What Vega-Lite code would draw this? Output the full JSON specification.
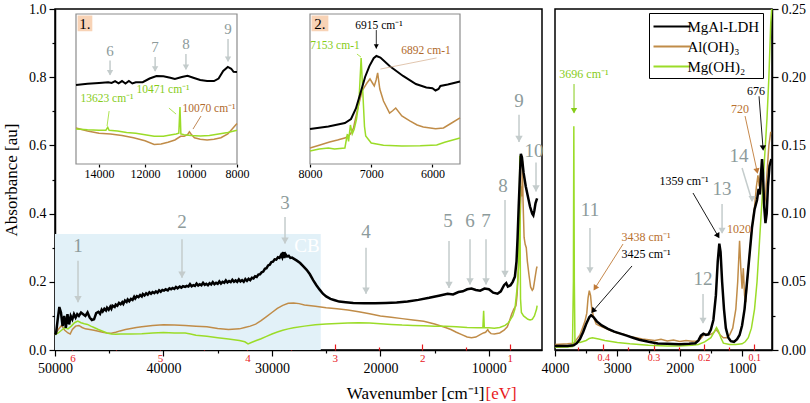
{
"$schema":"https://vega.github.io/schema/vega-lite/v6.json",
"padding":{"left":1,"top":1,"right":0,"bottom":0},
"bounds":"flush",
"spacing":13,
"config":{"font":"Liberation Serif","view":{"stroke":"black","strokeWidth":1.5},
 "style":{"guide-label":{"font":"Liberation Serif"},"guide-title":{"font":"Liberation Serif"}},
 "axis":{"grid":false,"domainColor":"black","domainWidth":1.5,"tickColor":"black","tickWidth":1.2,"labelColor":"black","titleColor":"black","labelFont":"Liberation Serif","titleFont":"Liberation Serif","labelFontSize":14},
 "legend":{"labelFont":"Liberation Serif"}},
"resolve":{"scale":{"color":"independent"}},
"datasets":{
"L":[
{"wn":50000,"a":0.045,"s":"MgAl-LDH"},{"wn":49900,"a":0.05,"s":"MgAl-LDH"},{"wn":49750,"a":0.09,"s":"MgAl-LDH"},{"wn":49600,"a":0.126,"s":"MgAl-LDH"},{"wn":49450,"a":0.11,"s":"MgAl-LDH"},{"wn":49300,"a":0.07,"s":"MgAl-LDH"},{"wn":49150,"a":0.1,"s":"MgAl-LDH"},{"wn":49000,"a":0.065,"s":"MgAl-LDH"},{"wn":48850,"a":0.105,"s":"MgAl-LDH"},{"wn":48700,"a":0.075,"s":"MgAl-LDH"},{"wn":48550,"a":0.1,"s":"MgAl-LDH"},{"wn":48400,"a":0.09,"s":"MgAl-LDH"},{"wn":48250,"a":0.105,"s":"MgAl-LDH"},{"wn":48100,"a":0.095,"s":"MgAl-LDH"},{"wn":47950,"a":0.105,"s":"MgAl-LDH"},{"wn":47800,"a":0.1,"s":"MgAl-LDH"},{"wn":47600,"a":0.11,"s":"MgAl-LDH"},{"wn":47400,"a":0.105,"s":"MgAl-LDH"},{"wn":47200,"a":0.1,"s":"MgAl-LDH"},{"wn":47000,"a":0.11,"s":"MgAl-LDH"},{"wn":46800,"a":0.095,"s":"MgAl-LDH"},{"wn":46600,"a":0.088,"s":"MgAl-LDH"},{"wn":46400,"a":0.09,"s":"MgAl-LDH"},{"wn":46200,"a":0.108,"s":"MgAl-LDH"},
{"wn":46000,"a":0.112,"s":"MgAl-LDH"},{"wn":45850,"a":0.106,"s":"MgAl-LDH"},{"wn":45700,"a":0.118,"s":"MgAl-LDH"},{"wn":45600,"a":0.113,"s":"MgAl-LDH"},{"wn":45450,"a":0.121,"s":"MgAl-LDH"},{"wn":45300,"a":0.116,"s":"MgAl-LDH"},{"wn":45200,"a":0.124,"s":"MgAl-LDH"},{"wn":45050,"a":0.118,"s":"MgAl-LDH"},{"wn":44900,"a":0.127,"s":"MgAl-LDH"},{"wn":44800,"a":0.121,"s":"MgAl-LDH"},{"wn":44700,"a":0.13,"s":"MgAl-LDH"},{"wn":44500,"a":0.126,"s":"MgAl-LDH"},{"wn":44400,"a":0.133,"s":"MgAl-LDH"},{"wn":44250,"a":0.13,"s":"MgAl-LDH"},{"wn":44100,"a":0.138,"s":"MgAl-LDH"},{"wn":43950,"a":0.134,"s":"MgAl-LDH"},{"wn":43800,"a":0.14,"s":"MgAl-LDH"},{"wn":43700,"a":0.135,"s":"MgAl-LDH"},{"wn":43550,"a":0.145,"s":"MgAl-LDH"},{"wn":43400,"a":0.141,"s":"MgAl-LDH"},{"wn":43300,"a":0.148,"s":"MgAl-LDH"},{"wn":43150,"a":0.143,"s":"MgAl-LDH"},{"wn":43000,"a":0.15,"s":"MgAl-LDH"},{"wn":42850,"a":0.147,"s":"MgAl-LDH"},{"wn":42700,"a":0.156,"s":"MgAl-LDH"},{"wn":42600,"a":0.151,"s":"MgAl-LDH"},{"wn":42450,"a":0.158,"s":"MgAl-LDH"},{"wn":42300,"a":0.155,"s":"MgAl-LDH"},{"wn":42150,"a":0.161,"s":"MgAl-LDH"},{"wn":42000,"a":0.157,"s":"MgAl-LDH"},{"wn":41900,"a":0.164,"s":"MgAl-LDH"},{"wn":41750,"a":0.16,"s":"MgAl-LDH"},{"wn":41600,"a":0.166,"s":"MgAl-LDH"},{"wn":41450,"a":0.162,"s":"MgAl-LDH"},{"wn":41300,"a":0.169,"s":"MgAl-LDH"},{"wn":41150,"a":0.165,"s":"MgAl-LDH"},{"wn":41000,"a":0.17,"s":"MgAl-LDH"},{"wn":40850,"a":0.167,"s":"MgAl-LDH"},{"wn":40700,"a":0.172,"s":"MgAl-LDH"},{"wn":40550,"a":0.168,"s":"MgAl-LDH"},{"wn":40400,"a":0.175,"s":"MgAl-LDH"},{"wn":40250,"a":0.171,"s":"MgAl-LDH"},{"wn":40100,"a":0.176,"s":"MgAl-LDH"},{"wn":39950,"a":0.174,"s":"MgAl-LDH"},{"wn":39800,"a":0.178,"s":"MgAl-LDH"},{"wn":39600,"a":0.175,"s":"MgAl-LDH"},{"wn":39450,"a":0.181,"s":"MgAl-LDH"},{"wn":39300,"a":0.178,"s":"MgAl-LDH"},{"wn":39150,"a":0.182,"s":"MgAl-LDH"},{"wn":39000,"a":0.179,"s":"MgAl-LDH"},{"wn":38850,"a":0.185,"s":"MgAl-LDH"},{"wn":38700,"a":0.181,"s":"MgAl-LDH"},{"wn":38500,"a":0.186,"s":"MgAl-LDH"},{"wn":38350,"a":0.183,"s":"MgAl-LDH"},{"wn":38200,"a":0.187,"s":"MgAl-LDH"},{"wn":38000,"a":0.185,"s":"MgAl-LDH"},{"wn":37850,"a":0.188,"s":"MgAl-LDH"},{"wn":37700,"a":0.186,"s":"MgAl-LDH"},{"wn":37550,"a":0.193,"s":"MgAl-LDH"},{"wn":37400,"a":0.187,"s":"MgAl-LDH"},{"wn":37250,"a":0.19,"s":"MgAl-LDH"},{"wn":37100,"a":0.188,"s":"MgAl-LDH"},{"wn":36950,"a":0.195,"s":"MgAl-LDH"},{"wn":36800,"a":0.189,"s":"MgAl-LDH"},{"wn":36650,"a":0.193,"s":"MgAl-LDH"},{"wn":36500,"a":0.19,"s":"MgAl-LDH"},{"wn":36350,"a":0.197,"s":"MgAl-LDH"},{"wn":36200,"a":0.191,"s":"MgAl-LDH"},{"wn":36050,"a":0.194,"s":"MgAl-LDH"},{"wn":35900,"a":0.19,"s":"MgAl-LDH"},{"wn":35750,"a":0.196,"s":"MgAl-LDH"},{"wn":35600,"a":0.192,"s":"MgAl-LDH"},{"wn":35450,"a":0.199,"s":"MgAl-LDH"},{"wn":35300,"a":0.193,"s":"MgAl-LDH"},{"wn":35150,"a":0.197,"s":"MgAl-LDH"},{"wn":35000,"a":0.194,"s":"MgAl-LDH"},{"wn":34850,"a":0.201,"s":"MgAl-LDH"},{"wn":34700,"a":0.195,"s":"MgAl-LDH"},{"wn":34550,"a":0.2,"s":"MgAl-LDH"},{"wn":34400,"a":0.197,"s":"MgAl-LDH"},{"wn":34250,"a":0.204,"s":"MgAl-LDH"},{"wn":34100,"a":0.198,"s":"MgAl-LDH"},{"wn":33950,"a":0.202,"s":"MgAl-LDH"},{"wn":33800,"a":0.199,"s":"MgAl-LDH"},{"wn":33650,"a":0.206,"s":"MgAl-LDH"},{"wn":33500,"a":0.2,"s":"MgAl-LDH"},{"wn":33350,"a":0.204,"s":"MgAl-LDH"},{"wn":33200,"a":0.2,"s":"MgAl-LDH"},{"wn":33050,"a":0.207,"s":"MgAl-LDH"},{"wn":32900,"a":0.201,"s":"MgAl-LDH"},{"wn":32750,"a":0.205,"s":"MgAl-LDH"},{"wn":32600,"a":0.2,"s":"MgAl-LDH"},{"wn":32450,"a":0.208,"s":"MgAl-LDH"},{"wn":32300,"a":0.203,"s":"MgAl-LDH"},{"wn":32150,"a":0.209,"s":"MgAl-LDH"},{"wn":32000,"a":0.205,"s":"MgAl-LDH"},{"wn":31850,"a":0.212,"s":"MgAl-LDH"},{"wn":31700,"a":0.21,"s":"MgAl-LDH"},{"wn":31550,"a":0.216,"s":"MgAl-LDH"},{"wn":31400,"a":0.214,"s":"MgAl-LDH"},{"wn":31250,"a":0.221,"s":"MgAl-LDH"},{"wn":31100,"a":0.222,"s":"MgAl-LDH"},{"wn":30950,"a":0.228,"s":"MgAl-LDH"},{"wn":30800,"a":0.23,"s":"MgAl-LDH"},{"wn":30650,"a":0.238,"s":"MgAl-LDH"},{"wn":30500,"a":0.24,"s":"MgAl-LDH"},{"wn":30350,"a":0.248,"s":"MgAl-LDH"},{"wn":30200,"a":0.25,"s":"MgAl-LDH"},{"wn":30050,"a":0.258,"s":"MgAl-LDH"},{"wn":29900,"a":0.259,"s":"MgAl-LDH"},{"wn":29750,"a":0.266,"s":"MgAl-LDH"},{"wn":29600,"a":0.265,"s":"MgAl-LDH"},{"wn":29450,"a":0.272,"s":"MgAl-LDH"},{"wn":29300,"a":0.27,"s":"MgAl-LDH"},{"wn":29150,"a":0.279,"s":"MgAl-LDH"},{"wn":29050,"a":0.272,"s":"MgAl-LDH"},{"wn":28950,"a":0.287,"s":"MgAl-LDH"},{"wn":28850,"a":0.27,"s":"MgAl-LDH"},{"wn":28750,"a":0.281,"s":"MgAl-LDH"},{"wn":28600,"a":0.274,"s":"MgAl-LDH"},{"wn":28450,"a":0.276,"s":"MgAl-LDH"},{"wn":28300,"a":0.27,"s":"MgAl-LDH"},{"wn":28150,"a":0.271,"s":"MgAl-LDH"},
{"wn":28000,"a":0.268,"s":"MgAl-LDH"},{"wn":27700,"a":0.262,"s":"MgAl-LDH"},{"wn":27400,"a":0.255,"s":"MgAl-LDH"},{"wn":27100,"a":0.245,"s":"MgAl-LDH"},{"wn":26800,"a":0.235,"s":"MgAl-LDH"},{"wn":26500,"a":0.222,"s":"MgAl-LDH"},{"wn":26200,"a":0.205,"s":"MgAl-LDH"},{"wn":25900,"a":0.19,"s":"MgAl-LDH"},{"wn":25600,"a":0.177,"s":"MgAl-LDH"},{"wn":25300,"a":0.165,"s":"MgAl-LDH"},{"wn":25000,"a":0.157,"s":"MgAl-LDH"},{"wn":24600,"a":0.15,"s":"MgAl-LDH"},{"wn":24200,"a":0.146,"s":"MgAl-LDH"},{"wn":23800,"a":0.142,"s":"MgAl-LDH"},{"wn":23200,"a":0.14,"s":"MgAl-LDH"},{"wn":22500,"a":0.138,"s":"MgAl-LDH"},{"wn":21500,"a":0.137,"s":"MgAl-LDH"},{"wn":20500,"a":0.137,"s":"MgAl-LDH"},{"wn":19500,"a":0.138,"s":"MgAl-LDH"},{"wn":18500,"a":0.139,"s":"MgAl-LDH"},{"wn":17500,"a":0.142,"s":"MgAl-LDH"},{"wn":16500,"a":0.147,"s":"MgAl-LDH"},{"wn":15500,"a":0.153,"s":"MgAl-LDH"},{"wn":14500,"a":0.16,"s":"MgAl-LDH"},{"wn":13800,"a":0.165,"s":"MgAl-LDH"},{"wn":13300,"a":0.163,"s":"MgAl-LDH"},{"wn":12800,"a":0.17,"s":"MgAl-LDH"},{"wn":12400,"a":0.172,"s":"MgAl-LDH"},{"wn":12000,"a":0.178,"s":"MgAl-LDH"},{"wn":11600,"a":0.18,"s":"MgAl-LDH"},{"wn":11200,"a":0.176,"s":"MgAl-LDH"},{"wn":10800,"a":0.174,"s":"MgAl-LDH"},{"wn":10400,"a":0.18,"s":"MgAl-LDH"},{"wn":10000,"a":0.178,"s":"MgAl-LDH"},{"wn":9600,"a":0.168,"s":"MgAl-LDH"},{"wn":9200,"a":0.165,"s":"MgAl-LDH"},{"wn":8900,"a":0.172,"s":"MgAl-LDH"},{"wn":8600,"a":0.19,"s":"MgAl-LDH"},{"wn":8400,"a":0.196,"s":"MgAl-LDH"},{"wn":8250,"a":0.186,"s":"MgAl-LDH"},{"wn":8000,"a":0.19,"s":"MgAl-LDH"},{"wn":7800,"a":0.2,"s":"MgAl-LDH"},{"wn":7600,"a":0.215,"s":"MgAl-LDH"},{"wn":7450,"a":0.26,"s":"MgAl-LDH"},{"wn":7350,"a":0.33,"s":"MgAl-LDH"},{"wn":7250,"a":0.42,"s":"MgAl-LDH"},{"wn":7150,"a":0.5,"s":"MgAl-LDH"},{"wn":7050,"a":0.575,"s":"MgAl-LDH"},{"wn":6950,"a":0.565,"s":"MgAl-LDH"},{"wn":6800,"a":0.52,"s":"MgAl-LDH"},{"wn":6600,"a":0.48,"s":"MgAl-LDH"},{"wn":6400,"a":0.45,"s":"MgAl-LDH"},{"wn":6200,"a":0.42,"s":"MgAl-LDH"},{"wn":6000,"a":0.4,"s":"MgAl-LDH"},{"wn":5900,"a":0.395,"s":"MgAl-LDH"},{"wn":5800,"a":0.41,"s":"MgAl-LDH"},{"wn":5700,"a":0.43,"s":"MgAl-LDH"},{"wn":5600,"a":0.44,"s":"MgAl-LDH"},{"wn":5550,"a":0.445,"s":"MgAl-LDH"},
{"wn":50000,"a":0.045,"s":"Al(OH)₃"},{"wn":49700,"a":0.06,"s":"Al(OH)₃"},{"wn":49400,"a":0.072,"s":"Al(OH)₃"},{"wn":49100,"a":0.058,"s":"Al(OH)₃"},{"wn":48800,"a":0.05,"s":"Al(OH)₃"},{"wn":48600,"a":0.047,"s":"Al(OH)₃"},{"wn":48400,"a":0.06,"s":"Al(OH)₃"},{"wn":48100,"a":0.07,"s":"Al(OH)₃"},{"wn":47800,"a":0.072,"s":"Al(OH)₃"},{"wn":47500,"a":0.066,"s":"Al(OH)₃"},{"wn":47200,"a":0.062,"s":"Al(OH)₃"},{"wn":46800,"a":0.06,"s":"Al(OH)₃"},{"wn":46400,"a":0.058,"s":"Al(OH)₃"},{"wn":46000,"a":0.055,"s":"Al(OH)₃"},{"wn":45600,"a":0.052,"s":"Al(OH)₃"},{"wn":45200,"a":0.05,"s":"Al(OH)₃"},{"wn":44800,"a":0.049,"s":"Al(OH)₃"},{"wn":44400,"a":0.052,"s":"Al(OH)₃"},{"wn":44000,"a":0.056,"s":"Al(OH)₃"},{"wn":43500,"a":0.06,"s":"Al(OH)₃"},{"wn":43000,"a":0.063,"s":"Al(OH)₃"},{"wn":42500,"a":0.066,"s":"Al(OH)₃"},{"wn":42000,"a":0.068,"s":"Al(OH)₃"},{"wn":41000,"a":0.072,"s":"Al(OH)₃"},{"wn":40000,"a":0.074,"s":"Al(OH)₃"},{"wn":39000,"a":0.073,"s":"Al(OH)₃"},{"wn":38000,"a":0.072,"s":"Al(OH)₃"},{"wn":37000,"a":0.07,"s":"Al(OH)₃"},{"wn":36000,"a":0.068,"s":"Al(OH)₃"},{"wn":35000,"a":0.063,"s":"Al(OH)₃"},{"wn":34000,"a":0.06,"s":"Al(OH)₃"},{"wn":33000,"a":0.062,"s":"Al(OH)₃"},{"wn":32500,"a":0.066,"s":"Al(OH)₃"},{"wn":32000,"a":0.07,"s":"Al(OH)₃"},{"wn":31500,"a":0.076,"s":"Al(OH)₃"},{"wn":31000,"a":0.086,"s":"Al(OH)₃"},{"wn":30500,"a":0.098,"s":"Al(OH)₃"},{"wn":30000,"a":0.11,"s":"Al(OH)₃"},{"wn":29500,"a":0.122,"s":"Al(OH)₃"},{"wn":29000,"a":0.131,"s":"Al(OH)₃"},{"wn":28500,"a":0.137,"s":"Al(OH)₃"},{"wn":28000,"a":0.138,"s":"Al(OH)₃"},{"wn":27500,"a":0.136,"s":"Al(OH)₃"},{"wn":27000,"a":0.132,"s":"Al(OH)₃"},{"wn":26000,"a":0.128,"s":"Al(OH)₃"},{"wn":25000,"a":0.124,"s":"Al(OH)₃"},{"wn":24000,"a":0.121,"s":"Al(OH)₃"},{"wn":23000,"a":0.117,"s":"Al(OH)₃"},{"wn":22000,"a":0.112,"s":"Al(OH)₃"},{"wn":21000,"a":0.106,"s":"Al(OH)₃"},{"wn":20000,"a":0.1,"s":"Al(OH)₃"},{"wn":19000,"a":0.096,"s":"Al(OH)₃"},{"wn":18000,"a":0.092,"s":"Al(OH)₃"},{"wn":17000,"a":0.088,"s":"Al(OH)₃"},{"wn":16000,"a":0.084,"s":"Al(OH)₃"},{"wn":15000,"a":0.076,"s":"Al(OH)₃"},{"wn":14000,"a":0.066,"s":"Al(OH)₃"},{"wn":13500,"a":0.06,"s":"Al(OH)₃"},{"wn":13000,"a":0.052,"s":"Al(OH)₃"},{"wn":12500,"a":0.045,"s":"Al(OH)₃"},{"wn":12000,"a":0.038,"s":"Al(OH)₃"},{"wn":11600,"a":0.036,"s":"Al(OH)₃"},{"wn":11200,"a":0.038,"s":"Al(OH)₃"},{"wn":10800,"a":0.045,"s":"Al(OH)₃"},{"wn":10500,"a":0.05,"s":"Al(OH)₃"},{"wn":10300,"a":0.052,"s":"Al(OH)₃"},{"wn":10100,"a":0.06,"s":"Al(OH)₃"},{"wn":10000,"a":0.054,"s":"Al(OH)₃"},{"wn":9800,"a":0.048,"s":"Al(OH)₃"},{"wn":9500,"a":0.047,"s":"Al(OH)₃"},{"wn":9000,"a":0.05,"s":"Al(OH)₃"},{"wn":8600,"a":0.058,"s":"Al(OH)₃"},{"wn":8300,"a":0.068,"s":"Al(OH)₃"},{"wn":8100,"a":0.085,"s":"Al(OH)₃"},{"wn":7900,"a":0.105,"s":"Al(OH)₃"},{"wn":7700,"a":0.12,"s":"Al(OH)₃"},{"wn":7500,"a":0.13,"s":"Al(OH)₃"},{"wn":7400,"a":0.16,"s":"Al(OH)₃"},{"wn":7300,"a":0.22,"s":"Al(OH)₃"},{"wn":7200,"a":0.32,"s":"Al(OH)₃"},{"wn":7100,"a":0.4,"s":"Al(OH)₃"},{"wn":7020,"a":0.48,"s":"Al(OH)₃"},{"wn":6960,"a":0.45,"s":"Al(OH)₃"},{"wn":6900,"a":0.555,"s":"Al(OH)₃"},{"wn":6850,"a":0.44,"s":"Al(OH)₃"},{"wn":6750,"a":0.33,"s":"Al(OH)₃"},{"wn":6650,"a":0.31,"s":"Al(OH)₃"},{"wn":6550,"a":0.3,"s":"Al(OH)₃"},{"wn":6450,"a":0.26,"s":"Al(OH)₃"},{"wn":6300,"a":0.22,"s":"Al(OH)₃"},{"wn":6150,"a":0.185,"s":"Al(OH)₃"},{"wn":6000,"a":0.175,"s":"Al(OH)₃"},{"wn":5900,"a":0.18,"s":"Al(OH)₃"},{"wn":5800,"a":0.2,"s":"Al(OH)₃"},{"wn":5700,"a":0.22,"s":"Al(OH)₃"},{"wn":5600,"a":0.24,"s":"Al(OH)₃"},{"wn":5550,"a":0.245,"s":"Al(OH)₃"},
{"wn":50000,"a":0.045,"s":"Mg(OH)₂"},{"wn":49700,"a":0.05,"s":"Mg(OH)₂"},{"wn":49400,"a":0.058,"s":"Mg(OH)₂"},{"wn":49100,"a":0.065,"s":"Mg(OH)₂"},{"wn":48800,"a":0.062,"s":"Mg(OH)₂"},{"wn":48500,"a":0.07,"s":"Mg(OH)₂"},{"wn":48200,"a":0.08,"s":"Mg(OH)₂"},{"wn":47900,"a":0.085,"s":"Mg(OH)₂"},{"wn":47600,"a":0.08,"s":"Mg(OH)₂"},{"wn":47300,"a":0.077,"s":"Mg(OH)₂"},{"wn":47000,"a":0.075,"s":"Mg(OH)₂"},{"wn":46700,"a":0.07,"s":"Mg(OH)₂"},{"wn":46400,"a":0.066,"s":"Mg(OH)₂"},{"wn":46000,"a":0.06,"s":"Mg(OH)₂"},{"wn":45600,"a":0.055,"s":"Mg(OH)₂"},{"wn":45200,"a":0.05,"s":"Mg(OH)₂"},{"wn":44800,"a":0.047,"s":"Mg(OH)₂"},{"wn":44400,"a":0.046,"s":"Mg(OH)₂"},{"wn":44000,"a":0.047,"s":"Mg(OH)₂"},{"wn":43000,"a":0.047,"s":"Mg(OH)₂"},{"wn":42000,"a":0.048,"s":"Mg(OH)₂"},{"wn":41000,"a":0.05,"s":"Mg(OH)₂"},{"wn":40000,"a":0.051,"s":"Mg(OH)₂"},{"wn":39000,"a":0.05,"s":"Mg(OH)₂"},{"wn":38000,"a":0.05,"s":"Mg(OH)₂"},{"wn":37500,"a":0.047,"s":"Mg(OH)₂"},{"wn":37000,"a":0.043,"s":"Mg(OH)₂"},{"wn":36000,"a":0.04,"s":"Mg(OH)₂"},{"wn":35000,"a":0.036,"s":"Mg(OH)₂"},{"wn":34000,"a":0.032,"s":"Mg(OH)₂"},{"wn":33500,"a":0.03,"s":"Mg(OH)₂"},{"wn":33000,"a":0.028,"s":"Mg(OH)₂"},{"wn":32500,"a":0.024,"s":"Mg(OH)₂"},{"wn":32200,"a":0.018,"s":"Mg(OH)₂"},{"wn":31900,"a":0.022,"s":"Mg(OH)₂"},{"wn":31500,"a":0.027,"s":"Mg(OH)₂"},{"wn":31000,"a":0.033,"s":"Mg(OH)₂"},{"wn":30500,"a":0.04,"s":"Mg(OH)₂"},{"wn":30000,"a":0.047,"s":"Mg(OH)₂"},{"wn":29500,"a":0.053,"s":"Mg(OH)₂"},{"wn":29000,"a":0.058,"s":"Mg(OH)₂"},{"wn":28500,"a":0.062,"s":"Mg(OH)₂"},{"wn":28000,"a":0.065,"s":"Mg(OH)₂"},{"wn":27000,"a":0.07,"s":"Mg(OH)₂"},{"wn":26000,"a":0.074,"s":"Mg(OH)₂"},{"wn":25000,"a":0.076,"s":"Mg(OH)₂"},{"wn":24000,"a":0.078,"s":"Mg(OH)₂"},{"wn":23000,"a":0.079,"s":"Mg(OH)₂"},{"wn":22000,"a":0.08,"s":"Mg(OH)₂"},{"wn":21000,"a":0.079,"s":"Mg(OH)₂"},{"wn":20000,"a":0.077,"s":"Mg(OH)₂"},{"wn":19000,"a":0.075,"s":"Mg(OH)₂"},{"wn":18000,"a":0.073,"s":"Mg(OH)₂"},{"wn":17000,"a":0.072,"s":"Mg(OH)₂"},{"wn":16000,"a":0.071,"s":"Mg(OH)₂"},{"wn":15000,"a":0.07,"s":"Mg(OH)₂"},{"wn":14000,"a":0.07,"s":"Mg(OH)₂"},{"wn":13000,"a":0.068,"s":"Mg(OH)₂"},{"wn":12000,"a":0.066,"s":"Mg(OH)₂"},{"wn":11000,"a":0.065,"s":"Mg(OH)₂"},{"wn":10550,"a":0.066,"s":"Mg(OH)₂"},{"wn":10480,"a":0.115,"s":"Mg(OH)₂"},{"wn":10420,"a":0.066,"s":"Mg(OH)₂"},{"wn":10000,"a":0.065,"s":"Mg(OH)₂"},{"wn":9500,"a":0.064,"s":"Mg(OH)₂"},{"wn":9000,"a":0.066,"s":"Mg(OH)₂"},{"wn":8500,"a":0.072,"s":"Mg(OH)₂"},{"wn":8200,"a":0.08,"s":"Mg(OH)₂"},{"wn":8000,"a":0.09,"s":"Mg(OH)₂"},{"wn":7800,"a":0.1,"s":"Mg(OH)₂"},{"wn":7600,"a":0.12,"s":"Mg(OH)₂"},{"wn":7400,"a":0.18,"s":"Mg(OH)₂"},{"wn":7350,"a":0.2,"s":"Mg(OH)₂"},{"wn":7250,"a":0.25,"s":"Mg(OH)₂"},{"wn":7180,"a":0.4,"s":"Mg(OH)₂"},{"wn":7150,"a":0.57,"s":"Mg(OH)₂"},{"wn":7120,"a":0.35,"s":"Mg(OH)₂"},{"wn":7080,"a":0.15,"s":"Mg(OH)₂"},{"wn":7000,"a":0.11,"s":"Mg(OH)₂"},{"wn":6800,"a":0.1,"s":"Mg(OH)₂"},{"wn":6600,"a":0.095,"s":"Mg(OH)₂"},{"wn":6400,"a":0.09,"s":"Mg(OH)₂"},{"wn":6200,"a":0.088,"s":"Mg(OH)₂"},{"wn":6000,"a":0.09,"s":"Mg(OH)₂"},{"wn":5800,"a":0.1,"s":"Mg(OH)₂"},{"wn":5600,"a":0.12,"s":"Mg(OH)₂"},{"wn":5550,"a":0.13,"s":"Mg(OH)₂"}
],
"R":[
{"wn":4000,"a":0.003,"s":"MgAl-LDH"},{"wn":3800,"a":0.003,"s":"MgAl-LDH"},{"wn":3700,"a":0.0035,"s":"MgAl-LDH"},{"wn":3650,"a":0.005,"s":"MgAl-LDH"},{"wn":3600,"a":0.008,"s":"MgAl-LDH"},{"wn":3550,"a":0.013,"s":"MgAl-LDH"},{"wn":3500,"a":0.019,"s":"MgAl-LDH"},{"wn":3450,"a":0.024,"s":"MgAl-LDH"},{"wn":3420,"a":0.0255,"s":"MgAl-LDH"},{"wn":3380,"a":0.024,"s":"MgAl-LDH"},{"wn":3330,"a":0.021,"s":"MgAl-LDH"},{"wn":3250,"a":0.018,"s":"MgAl-LDH"},{"wn":3150,"a":0.0155,"s":"MgAl-LDH"},{"wn":3050,"a":0.0135,"s":"MgAl-LDH"},{"wn":2950,"a":0.012,"s":"MgAl-LDH"},{"wn":2850,"a":0.0105,"s":"MgAl-LDH"},{"wn":2750,"a":0.009,"s":"MgAl-LDH"},{"wn":2650,"a":0.0075,"s":"MgAl-LDH"},{"wn":2500,"a":0.006,"s":"MgAl-LDH"},{"wn":2350,"a":0.0048,"s":"MgAl-LDH"},{"wn":2200,"a":0.0045,"s":"MgAl-LDH"},{"wn":2000,"a":0.0043,"s":"MgAl-LDH"},{"wn":1850,"a":0.0045,"s":"MgAl-LDH"},{"wn":1750,"a":0.005,"s":"MgAl-LDH"},{"wn":1700,"a":0.007,"s":"MgAl-LDH"},{"wn":1660,"a":0.0105,"s":"MgAl-LDH"},{"wn":1620,"a":0.012,"s":"MgAl-LDH"},{"wn":1580,"a":0.011,"s":"MgAl-LDH"},{"wn":1540,"a":0.0115,"s":"MgAl-LDH"},{"wn":1500,"a":0.015,"s":"MgAl-LDH"},{"wn":1460,"a":0.022,"s":"MgAl-LDH"},{"wn":1420,"a":0.04,"s":"MgAl-LDH"},{"wn":1390,"a":0.065,"s":"MgAl-LDH"},{"wn":1365,"a":0.078,"s":"MgAl-LDH"},{"wn":1345,"a":0.072,"s":"MgAl-LDH"},{"wn":1320,"a":0.05,"s":"MgAl-LDH"},{"wn":1290,"a":0.03,"s":"MgAl-LDH"},{"wn":1260,"a":0.016,"s":"MgAl-LDH"},{"wn":1220,"a":0.009,"s":"MgAl-LDH"},{"wn":1180,"a":0.0065,"s":"MgAl-LDH"},{"wn":1130,"a":0.006,"s":"MgAl-LDH"},{"wn":1080,"a":0.008,"s":"MgAl-LDH"},{"wn":1040,"a":0.011,"s":"MgAl-LDH"},{"wn":1000,"a":0.018,"s":"MgAl-LDH"},{"wn":960,"a":0.03,"s":"MgAl-LDH"},{"wn":920,"a":0.05,"s":"MgAl-LDH"},{"wn":880,"a":0.07,"s":"MgAl-LDH"},{"wn":840,"a":0.09,"s":"MgAl-LDH"},{"wn":800,"a":0.103,"s":"MgAl-LDH"},{"wn":760,"a":0.11,"s":"MgAl-LDH"},{"wn":735,"a":0.118,"s":"MgAl-LDH"},{"wn":715,"a":0.114,"s":"MgAl-LDH"},{"wn":695,"a":0.13,"s":"MgAl-LDH"},{"wn":680,"a":0.14,"s":"MgAl-LDH"},{"wn":665,"a":0.13,"s":"MgAl-LDH"},{"wn":645,"a":0.105,"s":"MgAl-LDH"},{"wn":625,"a":0.093,"s":"MgAl-LDH"},{"wn":605,"a":0.1,"s":"MgAl-LDH"},{"wn":585,"a":0.12,"s":"MgAl-LDH"},{"wn":560,"a":0.135,"s":"MgAl-LDH"},{"wn":530,"a":0.14,"s":"MgAl-LDH"},
{"wn":4000,"a":0.004,"s":"Al(OH)₃"},{"wn":3800,"a":0.0045,"s":"Al(OH)₃"},{"wn":3700,"a":0.005,"s":"Al(OH)₃"},{"wn":3650,"a":0.008,"s":"Al(OH)₃"},{"wn":3600,"a":0.011,"s":"Al(OH)₃"},{"wn":3560,"a":0.016,"s":"Al(OH)₃"},{"wn":3520,"a":0.021,"s":"Al(OH)₃"},{"wn":3490,"a":0.027,"s":"Al(OH)₃"},{"wn":3470,"a":0.038,"s":"Al(OH)₃"},{"wn":3450,"a":0.0435,"s":"Al(OH)₃"},{"wn":3430,"a":0.04,"s":"Al(OH)₃"},{"wn":3410,"a":0.03,"s":"Al(OH)₃"},{"wn":3380,"a":0.024,"s":"Al(OH)₃"},{"wn":3340,"a":0.019,"s":"Al(OH)₃"},{"wn":3300,"a":0.018,"s":"Al(OH)₃"},{"wn":3200,"a":0.016,"s":"Al(OH)₃"},{"wn":3100,"a":0.014,"s":"Al(OH)₃"},{"wn":3000,"a":0.0125,"s":"Al(OH)₃"},{"wn":2900,"a":0.0115,"s":"Al(OH)₃"},{"wn":2800,"a":0.01,"s":"Al(OH)₃"},{"wn":2700,"a":0.009,"s":"Al(OH)₃"},{"wn":2600,"a":0.008,"s":"Al(OH)₃"},{"wn":2500,"a":0.0075,"s":"Al(OH)₃"},{"wn":2400,"a":0.007,"s":"Al(OH)₃"},{"wn":2300,"a":0.0078,"s":"Al(OH)₃"},{"wn":2200,"a":0.0066,"s":"Al(OH)₃"},{"wn":2100,"a":0.0074,"s":"Al(OH)₃"},{"wn":2000,"a":0.0063,"s":"Al(OH)₃"},{"wn":1900,"a":0.007,"s":"Al(OH)₃"},{"wn":1800,"a":0.0064,"s":"Al(OH)₃"},{"wn":1700,"a":0.0066,"s":"Al(OH)₃"},{"wn":1650,"a":0.009,"s":"Al(OH)₃"},{"wn":1600,"a":0.012,"s":"Al(OH)₃"},{"wn":1550,"a":0.011,"s":"Al(OH)₃"},{"wn":1500,"a":0.0115,"s":"Al(OH)₃"},{"wn":1450,"a":0.013,"s":"Al(OH)₃"},{"wn":1420,"a":0.015,"s":"Al(OH)₃"},{"wn":1390,"a":0.0135,"s":"Al(OH)₃"},{"wn":1350,"a":0.011,"s":"Al(OH)₃"},{"wn":1300,"a":0.009,"s":"Al(OH)₃"},{"wn":1250,"a":0.009,"s":"Al(OH)₃"},{"wn":1200,"a":0.011,"s":"Al(OH)₃"},{"wn":1150,"a":0.016,"s":"Al(OH)₃"},{"wn":1100,"a":0.03,"s":"Al(OH)₃"},{"wn":1070,"a":0.05,"s":"Al(OH)₃"},{"wn":1040,"a":0.08,"s":"Al(OH)₃"},{"wn":1020,"a":0.06,"s":"Al(OH)₃"},{"wn":1000,"a":0.045,"s":"Al(OH)₃"},{"wn":980,"a":0.06,"s":"Al(OH)₃"},{"wn":960,"a":0.04,"s":"Al(OH)₃"},{"wn":940,"a":0.035,"s":"Al(OH)₃"},{"wn":920,"a":0.05,"s":"Al(OH)₃"},{"wn":880,"a":0.07,"s":"Al(OH)₃"},{"wn":840,"a":0.09,"s":"Al(OH)₃"},{"wn":800,"a":0.105,"s":"Al(OH)₃"},{"wn":770,"a":0.12,"s":"Al(OH)₃"},{"wn":745,"a":0.128,"s":"Al(OH)₃"},{"wn":725,"a":0.12,"s":"Al(OH)₃"},{"wn":705,"a":0.13,"s":"Al(OH)₃"},{"wn":690,"a":0.125,"s":"Al(OH)₃"},{"wn":670,"a":0.115,"s":"Al(OH)₃"},{"wn":650,"a":0.105,"s":"Al(OH)₃"},{"wn":630,"a":0.11,"s":"Al(OH)₃"},{"wn":600,"a":0.13,"s":"Al(OH)₃"},{"wn":570,"a":0.15,"s":"Al(OH)₃"},{"wn":540,"a":0.16,"s":"Al(OH)₃"},
{"wn":4000,"a":0.002,"s":"Mg(OH)₂"},{"wn":3800,"a":0.0022,"s":"Mg(OH)₂"},{"wn":3720,"a":0.0025,"s":"Mg(OH)₂"},{"wn":3705,"a":0.05,"s":"Mg(OH)₂"},{"wn":3698,"a":0.164,"s":"Mg(OH)₂"},{"wn":3690,"a":0.05,"s":"Mg(OH)₂"},{"wn":3680,"a":0.006,"s":"Mg(OH)₂"},{"wn":3600,"a":0.0055,"s":"Mg(OH)₂"},{"wn":3500,"a":0.007,"s":"Mg(OH)₂"},{"wn":3450,"a":0.0085,"s":"Mg(OH)₂"},{"wn":3400,"a":0.009,"s":"Mg(OH)₂"},{"wn":3300,"a":0.008,"s":"Mg(OH)₂"},{"wn":3200,"a":0.007,"s":"Mg(OH)₂"},{"wn":3000,"a":0.0055,"s":"Mg(OH)₂"},{"wn":2800,"a":0.0045,"s":"Mg(OH)₂"},{"wn":2500,"a":0.0035,"s":"Mg(OH)₂"},{"wn":2200,"a":0.003,"s":"Mg(OH)₂"},{"wn":2000,"a":0.003,"s":"Mg(OH)₂"},{"wn":1800,"a":0.0035,"s":"Mg(OH)₂"},{"wn":1700,"a":0.004,"s":"Mg(OH)₂"},{"wn":1600,"a":0.006,"s":"Mg(OH)₂"},{"wn":1500,"a":0.009,"s":"Mg(OH)₂"},{"wn":1450,"a":0.013,"s":"Mg(OH)₂"},{"wn":1410,"a":0.0165,"s":"Mg(OH)₂"},{"wn":1380,"a":0.014,"s":"Mg(OH)₂"},{"wn":1340,"a":0.009,"s":"Mg(OH)₂"},{"wn":1300,"a":0.005,"s":"Mg(OH)₂"},{"wn":1200,"a":0.004,"s":"Mg(OH)₂"},{"wn":1100,"a":0.004,"s":"Mg(OH)₂"},{"wn":1000,"a":0.0045,"s":"Mg(OH)₂"},{"wn":950,"a":0.006,"s":"Mg(OH)₂"},{"wn":900,"a":0.009,"s":"Mg(OH)₂"},{"wn":850,"a":0.016,"s":"Mg(OH)₂"},{"wn":800,"a":0.03,"s":"Mg(OH)₂"},{"wn":760,"a":0.05,"s":"Mg(OH)₂"},{"wn":720,"a":0.08,"s":"Mg(OH)₂"},{"wn":680,"a":0.11,"s":"Mg(OH)₂"},{"wn":640,"a":0.14,"s":"Mg(OH)₂"},{"wn":600,"a":0.17,"s":"Mg(OH)₂"},{"wn":570,"a":0.2,"s":"Mg(OH)₂"},{"wn":540,"a":0.24,"s":"Mg(OH)₂"},{"wn":525,"a":0.25,"s":"Mg(OH)₂"}
],
"I1":[
{"wn":15000,"a":0.527,"s":"MgAl-LDH"},{"wn":14500,"a":0.535,"s":"MgAl-LDH"},{"wn":14000,"a":0.54,"s":"MgAl-LDH"},{"wn":13600,"a":0.545,"s":"MgAl-LDH"},{"wn":13450,"a":0.54,"s":"MgAl-LDH"},{"wn":13300,"a":0.552,"s":"MgAl-LDH"},{"wn":13150,"a":0.538,"s":"MgAl-LDH"},{"wn":13000,"a":0.553,"s":"MgAl-LDH"},{"wn":12850,"a":0.536,"s":"MgAl-LDH"},{"wn":12700,"a":0.554,"s":"MgAl-LDH"},{"wn":12550,"a":0.537,"s":"MgAl-LDH"},{"wn":12400,"a":0.545,"s":"MgAl-LDH"},{"wn":12100,"a":0.545,"s":"MgAl-LDH"},{"wn":11800,"a":0.57,"s":"MgAl-LDH"},{"wn":11500,"a":0.587,"s":"MgAl-LDH"},{"wn":11200,"a":0.585,"s":"MgAl-LDH"},{"wn":10900,"a":0.575,"s":"MgAl-LDH"},{"wn":10700,"a":0.567,"s":"MgAl-LDH"},{"wn":10400,"a":0.58,"s":"MgAl-LDH"},{"wn":10150,"a":0.588,"s":"MgAl-LDH"},{"wn":9900,"a":0.575,"s":"MgAl-LDH"},{"wn":9600,"a":0.56,"s":"MgAl-LDH"},{"wn":9300,"a":0.553,"s":"MgAl-LDH"},{"wn":9000,"a":0.553,"s":"MgAl-LDH"},{"wn":8800,"a":0.57,"s":"MgAl-LDH"},{"wn":8600,"a":0.62,"s":"MgAl-LDH"},{"wn":8400,"a":0.647,"s":"MgAl-LDH"},{"wn":8250,"a":0.635,"s":"MgAl-LDH"},{"wn":8150,"a":0.615,"s":"MgAl-LDH"},{"wn":8000,"a":0.613,"s":"MgAl-LDH"},
{"wn":15000,"a":0.24,"s":"Al(OH)₃"},{"wn":14500,"a":0.22,"s":"Al(OH)₃"},{"wn":14000,"a":0.205,"s":"Al(OH)₃"},{"wn":13500,"a":0.2,"s":"Al(OH)₃"},{"wn":13000,"a":0.19,"s":"Al(OH)₃"},{"wn":12500,"a":0.175,"s":"Al(OH)₃"},{"wn":12000,"a":0.155,"s":"Al(OH)₃"},{"wn":11600,"a":0.13,"s":"Al(OH)₃"},{"wn":11300,"a":0.133,"s":"Al(OH)₃"},{"wn":11000,"a":0.145,"s":"Al(OH)₃"},{"wn":10700,"a":0.16,"s":"Al(OH)₃"},{"wn":10450,"a":0.185,"s":"Al(OH)₃"},{"wn":10300,"a":0.185,"s":"Al(OH)₃"},{"wn":10150,"a":0.195,"s":"Al(OH)₃"},{"wn":10070,"a":0.215,"s":"Al(OH)₃"},{"wn":10000,"a":0.2,"s":"Al(OH)₃"},{"wn":9850,"a":0.175,"s":"Al(OH)₃"},{"wn":9600,"a":0.165,"s":"Al(OH)₃"},{"wn":9300,"a":0.16,"s":"Al(OH)₃"},{"wn":9000,"a":0.165,"s":"Al(OH)₃"},{"wn":8700,"a":0.175,"s":"Al(OH)₃"},{"wn":8400,"a":0.2,"s":"Al(OH)₃"},{"wn":8200,"a":0.235,"s":"Al(OH)₃"},{"wn":8000,"a":0.27,"s":"Al(OH)₃"},
{"wn":15000,"a":0.233,"s":"Mg(OH)₂"},{"wn":14500,"a":0.228,"s":"Mg(OH)₂"},{"wn":14000,"a":0.225,"s":"Mg(OH)₂"},{"wn":13700,"a":0.225,"s":"Mg(OH)₂"},{"wn":13620,"a":0.245,"s":"Mg(OH)₂"},{"wn":13560,"a":0.225,"s":"Mg(OH)₂"},{"wn":13200,"a":0.22,"s":"Mg(OH)₂"},{"wn":12800,"a":0.21,"s":"Mg(OH)₂"},{"wn":12400,"a":0.205,"s":"Mg(OH)₂"},{"wn":12000,"a":0.195,"s":"Mg(OH)₂"},{"wn":11600,"a":0.185,"s":"Mg(OH)₂"},{"wn":11200,"a":0.185,"s":"Mg(OH)₂"},{"wn":10900,"a":0.193,"s":"Mg(OH)₂"},{"wn":10650,"a":0.2,"s":"Mg(OH)₂"},{"wn":10530,"a":0.205,"s":"Mg(OH)₂"},{"wn":10480,"a":0.38,"s":"Mg(OH)₂"},{"wn":10440,"a":0.2,"s":"Mg(OH)₂"},{"wn":10300,"a":0.195,"s":"Mg(OH)₂"},{"wn":10000,"a":0.19,"s":"Mg(OH)₂"},{"wn":9600,"a":0.187,"s":"Mg(OH)₂"},{"wn":9200,"a":0.19,"s":"Mg(OH)₂"},{"wn":8800,"a":0.2,"s":"Mg(OH)₂"},{"wn":8400,"a":0.21,"s":"Mg(OH)₂"},{"wn":8000,"a":0.225,"s":"Mg(OH)₂"}
],
"I2":[
{"wn":8000,"a":0.233,"s":"MgAl-LDH"},{"wn":7700,"a":0.25,"s":"MgAl-LDH"},{"wn":7430,"a":0.273,"s":"MgAl-LDH"},{"wn":7330,"a":0.3,"s":"MgAl-LDH"},{"wn":7250,"a":0.37,"s":"MgAl-LDH"},{"wn":7180,"a":0.467,"s":"MgAl-LDH"},{"wn":7100,"a":0.58,"s":"MgAl-LDH"},{"wn":7030,"a":0.653,"s":"MgAl-LDH"},{"wn":6960,"a":0.705,"s":"MgAl-LDH"},{"wn":6915,"a":0.72,"s":"MgAl-LDH"},{"wn":6850,"a":0.71,"s":"MgAl-LDH"},{"wn":6700,"a":0.653,"s":"MgAl-LDH"},{"wn":6480,"a":0.587,"s":"MgAl-LDH"},{"wn":6270,"a":0.533,"s":"MgAl-LDH"},{"wn":6100,"a":0.51,"s":"MgAl-LDH"},{"wn":6000,"a":0.505,"s":"MgAl-LDH"},{"wn":5950,"a":0.49,"s":"MgAl-LDH"},{"wn":5900,"a":0.5,"s":"MgAl-LDH"},{"wn":5870,"a":0.52,"s":"MgAl-LDH"},{"wn":5750,"a":0.53,"s":"MgAl-LDH"},{"wn":5600,"a":0.545,"s":"MgAl-LDH"},{"wn":5550,"a":0.55,"s":"MgAl-LDH"},
{"wn":8000,"a":0.107,"s":"Al(OH)₃"},{"wn":7850,"a":0.125,"s":"Al(OH)₃"},{"wn":7680,"a":0.147,"s":"Al(OH)₃"},{"wn":7550,"a":0.16,"s":"Al(OH)₃"},{"wn":7420,"a":0.175,"s":"Al(OH)₃"},{"wn":7340,"a":0.2,"s":"Al(OH)₃"},{"wn":7290,"a":0.24,"s":"Al(OH)₃"},{"wn":7230,"a":0.353,"s":"Al(OH)₃"},{"wn":7150,"a":0.487,"s":"Al(OH)₃"},{"wn":7070,"a":0.54,"s":"Al(OH)₃"},{"wn":7020,"a":0.567,"s":"Al(OH)₃"},{"wn":6980,"a":0.54,"s":"Al(OH)₃"},{"wn":6950,"a":0.52,"s":"Al(OH)₃"},{"wn":6920,"a":0.56,"s":"Al(OH)₃"},{"wn":6895,"a":0.607,"s":"Al(OH)₃"},{"wn":6860,"a":0.5,"s":"Al(OH)₃"},{"wn":6800,"a":0.42,"s":"Al(OH)₃"},{"wn":6700,"a":0.34,"s":"Al(OH)₃"},{"wn":6650,"a":0.355,"s":"Al(OH)₃"},{"wn":6600,"a":0.373,"s":"Al(OH)₃"},{"wn":6500,"a":0.32,"s":"Al(OH)₃"},{"wn":6370,"a":0.287,"s":"Al(OH)₃"},{"wn":6250,"a":0.26,"s":"Al(OH)₃"},{"wn":6150,"a":0.247,"s":"Al(OH)₃"},{"wn":5950,"a":0.235,"s":"Al(OH)₃"},{"wn":5820,"a":0.24,"s":"Al(OH)₃"},{"wn":5700,"a":0.27,"s":"Al(OH)₃"},{"wn":5550,"a":0.307,"s":"Al(OH)₃"},
{"wn":8000,"a":0.087,"s":"Mg(OH)₂"},{"wn":7850,"a":0.1,"s":"Mg(OH)₂"},{"wn":7700,"a":0.107,"s":"Mg(OH)₂"},{"wn":7600,"a":0.1,"s":"Mg(OH)₂"},{"wn":7430,"a":0.107,"s":"Mg(OH)₂"},{"wn":7390,"a":0.2,"s":"Mg(OH)₂"},{"wn":7370,"a":0.15,"s":"Mg(OH)₂"},{"wn":7340,"a":0.26,"s":"Mg(OH)₂"},{"wn":7310,"a":0.2,"s":"Mg(OH)₂"},{"wn":7280,"a":0.23,"s":"Mg(OH)₂"},{"wn":7240,"a":0.3,"s":"Mg(OH)₂"},{"wn":7200,"a":0.42,"s":"Mg(OH)₂"},{"wn":7165,"a":0.707,"s":"Mg(OH)₂"},{"wn":7140,"a":0.5,"s":"Mg(OH)₂"},{"wn":7110,"a":0.25,"s":"Mg(OH)₂"},{"wn":7090,"a":0.187,"s":"Mg(OH)₂"},{"wn":7000,"a":0.14,"s":"Mg(OH)₂"},{"wn":6800,"a":0.125,"s":"Mg(OH)₂"},{"wn":6500,"a":0.12,"s":"Mg(OH)₂"},{"wn":6200,"a":0.122,"s":"Mg(OH)₂"},{"wn":5930,"a":0.127,"s":"Mg(OH)₂"},{"wn":5800,"a":0.145,"s":"Mg(OH)₂"},{"wn":5550,"a":0.173,"s":"Mg(OH)₂"}
],
"LARR":[{"wn":47879,"a":0.262,"a2":0.14},{"wn":38291,"a":0.325,"a2":0.212},{"wn":28794,"a":0.39,"a2":0.312},{"wn":21326,"a":0.3,"a2":0.165},{"wn":13673,"a":0.32,"a2":0.182},{"wn":11737,"a":0.325,"a2":0.192},{"wn":10262,"a":0.325,"a2":0.192},{"wn":8510,"a":0.44,"a2":0.214},{"wn":7219,"a":0.69,"a2":0.61},{"wn":5652,"a":0.55,"a2":0.465}],
"LNUM":[{"wn":47879,"a":0.306,"t":"1"},{"wn":38291,"a":0.375,"t":"2"},{"wn":28794,"a":0.43,"t":"3"},{"wn":21326,"a":0.345,"t":"4"},{"wn":13765,"a":0.377,"t":"5"},{"wn":11737,"a":0.377,"t":"6"},{"wn":10262,"a":0.377,"t":"7"},{"wn":8694,"a":0.48,"t":"8"},{"wn":7219,"a":0.73,"t":"9"},{"wn":5836,"a":0.585,"t":"10"}],
"I1NUM":[{"wn":13520,"a":0.753,"t":"6"},{"wn":11560,"a":0.78,"t":"7"},{"wn":10220,"a":0.8,"t":"8"},{"wn":8390,"a":0.9,"t":"9"}],
"I1ARR":[{"wn":13520,"a":0.69,"a2":0.595},{"wn":11560,"a":0.713,"a2":0.62},{"wn":10220,"a":0.733,"a2":0.632},{"wn":8390,"a":0.833,"a2":0.685}],
"I1LN":[{"wn":13560,"a":0.353,"wn2":13650,"a2":0.253,"c":"g"},{"wn":10960,"a":0.373,"wn2":10650,"a2":0.333,"c":"g"},{"wn":9565,"a":0.32,"wn2":9913,"a2":0.233,"c":"b"}],
"I1TXT":[{"wn":13652,"a":0.433,"t":"13623 cm⁻¹","c":"g"},{"wn":11217,"a":0.493,"t":"10471 cm⁻¹","c":"g"},{"wn":9217,"a":0.367,"t":"10070 cm⁻¹","c":"b"}],
"I2LN":[{"wn":7233,"a":0.733,"wn2":7167,"a2":0.713,"c":"g"},{"wn":5933,"a":0.707,"wn2":6850,"a2":0.633,"c":"b"}],
"I2ARR":[{"wn":6917,"a":0.893,"a2":0.77}],
"I2TXT":[{"wn":6873,"a":0.92,"t":"6915 cm⁻¹","c":"k"},{"wn":7592,"a":0.787,"t":"7153 cm-1","c":"g"},{"wn":6106,"a":0.753,"t":"6892 cm-1","c":"b"}],
"RARR":[{"k":"g3696","wn":3695,"a":0.195,"wn2":3695,"a2":0.174,"c":"g"},{"k":"11","wn":3439,"a":0.0894,"wn2":3439,"a2":0.057,"c":"n"},{"k":"b3438","wn":2909,"a":0.0777,"wn2":3358,"a2":0.0454,"c":"b"},{"k":"k3425","wn":2765,"a":0.0616,"wn2":3390,"a2":0.0286,"c":"k"},{"k":"12","wn":1626,"a":0.041,"wn2":1626,"a2":0.02,"c":"n"},{"k":"k1359","wn":1787,"a":0.1151,"wn2":1386,"a2":0.0836,"c":"k"},{"k":"13","wn":1321,"a":0.107,"wn2":1321,"a2":0.086,"c":"n"},{"k":"14","wn":1000,"a":0.1334,"wn2":840,"a2":0.1092,"c":"n"},{"k":"b720","wn":952,"a":0.1715,"wn2":760,"a2":0.1312,"c":"b"},{"k":"k676","wn":728,"a":0.186,"wn2":664,"a2":0.148,"c":"k"}],
"RNUM":[{"wn":3439,"a":0.1026,"t":"11"},{"wn":1626,"a":0.052,"t":"12"},{"wn":1321,"a":0.118,"t":"13"},{"wn":1049,"a":0.142,"t":"14"}],
"RTXT":[{"wn":3535,"a":0.2023,"t":"3696 cm⁻¹","c":"g"},{"wn":2540,"a":0.0828,"t":"3438 cm⁻¹","c":"b"},{"wn":2540,"a":0.0704,"t":"3425 cm⁻¹","c":"k"},{"wn":1931,"a":0.1239,"t":"1359 cm⁻¹","c":"k"},{"wn":1049,"a":0.0887,"t":"1020","c":"b"},{"wn":1033,"a":0.1767,"t":"720","c":"b"},{"wn":776,"a":0.19,"t":"676","c":"k"}]
},
"hconcat":[
{
"width":487,"height":341,
"resolve":{"scale":{"x":"independent","y":"independent"},"axis":{"x":"independent","y":"independent"}},
"layer":[
 {"layer":[
  {"data":{"values":[{"wn":50000,"wn2":25500,"a":0,"a2":0.34}]},"mark":{"type":"rect","fill":"#e2f1f8"},
   "encoding":{
    "x":{"field":"wn","type":"quantitative","scale":{"domain":[5100,50000],"reverse":true,"nice":false,"zero":false},
      "axis":{"orient":"bottom","values":[10000,20000,30000,40000,50000],"format":"d","tickSize":6,"labelPadding":5,"labelFlush":false,"labelFont":"Liberation Serif","titleFont":"Liberation Serif","title":"Wavenumber [cm⁻¹]","titleFontSize":17,"titleFontWeight":"normal","titleX":429,"titleY":48,"titleAlign":"right","titleBaseline":"alphabetic"}},
    "x2":{"field":"wn2"},
    "y":{"field":"a","type":"quantitative","scale":{"domain":[0,1],"nice":false,"zero":false},
      "axis":{"orient":"left","values":[0,0.2,0.4,0.6,0.8,1],"format":".1f","tickSize":6,"labelPadding":3,"labelFont":"Liberation Serif","titleFont":"Liberation Serif","title":"Absorbance [au]","titleFontSize":17,"titleFontWeight":"normal","titlePadding":8}},
    "y2":{"field":"a2"}}},
  {"data":{"values":[{"wn":25600,"a":0.305,"t":"CB"}]},"mark":{"type":"text","align":"right","fontSize":19,"fill":"white"},
   "encoding":{"x":{"field":"wn","type":"quantitative"},"y":{"field":"a","type":"quantitative"},"text":{"field":"t"}}},
  {"data":{"name":"L"},"transform":[{"filter":"datum.s !== 'MgAl-LDH'"}],"mark":{"type":"line","strokeWidth":1.5},
   "encoding":{"x":{"field":"wn","type":"quantitative"},"y":{"field":"a","type":"quantitative"},
    "color":{"field":"s","type":"nominal","scale":{"domain":["MgAl-LDH","Al(OH)₃","Mg(OH)₂"],"range":["#000000","#c08c48","#9bdc28"]},"legend":null}}},
  {"data":{"name":"L"},"transform":[{"filter":"datum.s === 'MgAl-LDH'"}],"mark":{"type":"line","strokeWidth":2.5},
   "encoding":{"x":{"field":"wn","type":"quantitative"},"y":{"field":"a","type":"quantitative"},
    "color":{"field":"s","type":"nominal","legend":null}}},
  {"data":{"name":"LARR"},"mark":{"type":"rule","color":"#c4cccc","strokeWidth":1.5},
   "encoding":{"x":{"field":"wn","type":"quantitative"},"y":{"field":"a","type":"quantitative"},"y2":{"field":"a2"}}},
  {"data":{"name":"LARR"},"mark":{"type":"point","shape":"triangle-down","filled":true,"size":55,"color":"#c4cccc","opacity":1,"yOffset":-3},
   "encoding":{"x":{"field":"wn","type":"quantitative"},"y":{"field":"a2","type":"quantitative"}}},
  {"data":{"name":"LNUM"},"mark":{"type":"text","fontSize":19,"fill":"#8d9b9b"},
   "encoding":{"x":{"field":"wn","type":"quantitative"},"y":{"field":"a","type":"quantitative"},"text":{"field":"t"}}}
 ]},
 {"data":{"values":[{"wn":20000,"a":0.5}]},"mark":{"type":"point","opacity":0},
  "encoding":{
   "x":{"field":"wn","type":"quantitative","scale":{"domain":[5100,50000],"reverse":true,"nice":false,"zero":false},"axis":{"orient":"bottom","values":[15000,25000,35000,45000],"labels":false,"tickSize":3,"domain":false,"title":null}},
   "y":{"field":"a","type":"quantitative","scale":{"domain":[0,1],"nice":false,"zero":false},"axis":{"orient":"left","values":[0.1,0.3,0.5,0.7,0.9],"labels":false,"tickSize":3,"domain":false,"title":null}}}},
 {"data":{"values":[{"ev":3}]},"mark":{"type":"point","opacity":0},
  "encoding":{
   "x":{"field":"ev","type":"quantitative","scale":{"domain":[0.63232,6.19921],"reverse":true,"nice":false,"zero":false},
     "axis":{"orient":"bottom","values":[1,2,3,4,5,6],"format":"d","tickSize":-6,"tickColor":"#e8191d","labelColor":"#e8191d","labelFontSize":11,"labelPadding":8,"labelFlush":false,"labelFont":"Liberation Serif","titleFont":"Liberation Serif","domain":false,"title":"[eV]","titleColor":"#e8191d","titleFontSize":17,"titleFontWeight":"normal","titleX":430,"titleY":48,"titleAlign":"left","titleBaseline":"alphabetic"}}}},
 {"data":{"values":[{"ev":3}]},"mark":{"type":"point","opacity":0},
  "encoding":{
   "x":{"field":"ev","type":"quantitative","scale":{"domain":[0.63232,6.19921],"reverse":true,"nice":false,"zero":false},
     "axis":{"orient":"bottom","values":[1.5,2.5,3.5,4.5,5.5],"labels":false,"tickSize":-3,"tickColor":"#e8191d","domain":false,"title":null}}}},
 {"layer":[
  {"data":{"values":[{"wn":8000,"wn2":15000,"a":0,"a2":1}]},"mark":{"type":"rect","fill":"white","stroke":"#8c8c8c","strokeWidth":1.2},
   "encoding":{
    "x":{"field":"wn","type":"quantitative","scale":{"domain":[8000,15000],"range":[182,21],"nice":false,"zero":false},
      "axis":{"orient":"bottom","offset":-186,"values":[8000,10000,12000,14000],"format":"d","labelFontSize":12,"labelFont":"Liberation Serif","tickSize":3,"labelPadding":1,"domain":false,"labelFlush":false,"title":null}},
    "x2":{"field":"wn2"},
    "y":{"field":"a","type":"quantitative","scale":{"domain":[0,1],"range":[155,5],"nice":false,"zero":false},"axis":null},
    "y2":{"field":"a2"}}},
  {"data":{"values":[{"wn":14930,"wn2":14290,"a":0.99,"a2":0.885}]},"mark":{"type":"rect","fill":"#f8d3b6"},
   "encoding":{"x":{"field":"wn","type":"quantitative"},"x2":{"field":"wn2"},"y":{"field":"a","type":"quantitative"},"y2":{"field":"a2"}}},
  {"data":{"values":[{"wn":14610,"a":0.935,"t":"1."}]},"mark":{"type":"text","fontSize":15,"fill":"black"},
   "encoding":{"x":{"field":"wn","type":"quantitative"},"y":{"field":"a","type":"quantitative"},"text":{"field":"t"}}},
  {"data":{"name":"I1"},"transform":[{"filter":"datum.s !== 'MgAl-LDH'"}],"mark":{"type":"line","strokeWidth":1.5},
   "encoding":{"x":{"field":"wn","type":"quantitative"},"y":{"field":"a","type":"quantitative"},"color":{"field":"s","type":"nominal","legend":null}}},
  {"data":{"name":"I1"},"transform":[{"filter":"datum.s === 'MgAl-LDH'"}],"mark":{"type":"line","strokeWidth":2},
   "encoding":{"x":{"field":"wn","type":"quantitative"},"y":{"field":"a","type":"quantitative"},"color":{"field":"s","type":"nominal","legend":null}}},
  {"data":{"name":"I1ARR"},"mark":{"type":"rule","color":"#c4cccc","strokeWidth":1.5},
   "encoding":{"x":{"field":"wn","type":"quantitative"},"y":{"field":"a","type":"quantitative"},"y2":{"field":"a2"}}},
  {"data":{"name":"I1ARR"},"mark":{"type":"point","shape":"triangle-down","filled":true,"size":40,"color":"#c4cccc","opacity":1,"yOffset":-2},
   "encoding":{"x":{"field":"wn","type":"quantitative"},"y":{"field":"a2","type":"quantitative"}}},
  {"data":{"name":"I1NUM"},"mark":{"type":"text","fontSize":15,"fill":"#8d9b9b"},
   "encoding":{"x":{"field":"wn","type":"quantitative"},"y":{"field":"a","type":"quantitative"},"text":{"field":"t"}}},
  {"data":{"name":"I1LN"},"transform":[{"filter":"datum.c === 'g'"}],"mark":{"type":"rule","color":"#9bdc28","strokeWidth":0.8},
   "encoding":{"x":{"field":"wn","type":"quantitative"},"x2":{"field":"wn2"},"y":{"field":"a","type":"quantitative"},"y2":{"field":"a2"}}},
  {"data":{"name":"I1LN"},"transform":[{"filter":"datum.c === 'b'"}],"mark":{"type":"rule","color":"#b06a2c","strokeWidth":0.8},
   "encoding":{"x":{"field":"wn","type":"quantitative"},"x2":{"field":"wn2"},"y":{"field":"a","type":"quantitative"},"y2":{"field":"a2"}}},
  {"data":{"name":"I1TXT"},"transform":[{"filter":"datum.c === 'g'"}],"mark":{"type":"text","fontSize":11.5,"fill":"#86cc18"},
   "encoding":{"x":{"field":"wn","type":"quantitative"},"y":{"field":"a","type":"quantitative"},"text":{"field":"t"}}},
  {"data":{"name":"I1TXT"},"transform":[{"filter":"datum.c === 'b'"}],"mark":{"type":"text","fontSize":11.5,"fill":"#b06a2c"},
   "encoding":{"x":{"field":"wn","type":"quantitative"},"y":{"field":"a","type":"quantitative"},"text":{"field":"t"}}}
 ]},
 {"layer":[
  {"data":{"values":[{"wn":5550,"wn2":8000,"a":0,"a2":1}]},"mark":{"type":"rect","fill":"white","stroke":"#8c8c8c","strokeWidth":1.2},
   "encoding":{
    "x":{"field":"wn","type":"quantitative","scale":{"domain":[5550,8000],"range":[405,255],"nice":false,"zero":false},
      "axis":{"orient":"bottom","offset":-186,"values":[6000,7000,8000],"format":"d","labelFontSize":12,"labelFont":"Liberation Serif","tickSize":3,"labelPadding":1,"domain":false,"labelFlush":false,"title":null}},
    "x2":{"field":"wn2"},
    "y":{"field":"a","type":"quantitative","scale":{"domain":[0,1],"range":[155,5],"nice":false,"zero":false},"axis":null},
    "y2":{"field":"a2"}}},
  {"data":{"values":[{"wn":7975,"wn2":7700,"a":0.99,"a2":0.885}]},"mark":{"type":"rect","fill":"#f8d3b6"},
   "encoding":{"x":{"field":"wn","type":"quantitative"},"x2":{"field":"wn2"},"y":{"field":"a","type":"quantitative"},"y2":{"field":"a2"}}},
  {"data":{"values":[{"wn":7840,"a":0.935,"t":"2."}]},"mark":{"type":"text","fontSize":15,"fill":"black"},
   "encoding":{"x":{"field":"wn","type":"quantitative"},"y":{"field":"a","type":"quantitative"},"text":{"field":"t"}}},
  {"data":{"name":"I2"},"transform":[{"filter":"datum.s !== 'MgAl-LDH'"}],"mark":{"type":"line","strokeWidth":1.5},
   "encoding":{"x":{"field":"wn","type":"quantitative"},"y":{"field":"a","type":"quantitative"},"color":{"field":"s","type":"nominal","legend":null}}},
  {"data":{"name":"I2"},"transform":[{"filter":"datum.s === 'MgAl-LDH'"}],"mark":{"type":"line","strokeWidth":2},
   "encoding":{"x":{"field":"wn","type":"quantitative"},"y":{"field":"a","type":"quantitative"},"color":{"field":"s","type":"nominal","legend":null}}},
  {"data":{"name":"I2ARR"},"mark":{"type":"rule","color":"black","strokeWidth":0.8},
   "encoding":{"x":{"field":"wn","type":"quantitative"},"y":{"field":"a","type":"quantitative"},"y2":{"field":"a2"}}},
  {"data":{"name":"I2ARR"},"mark":{"type":"point","shape":"triangle-down","filled":true,"size":25,"color":"black","opacity":1,"yOffset":-2},
   "encoding":{"x":{"field":"wn","type":"quantitative"},"y":{"field":"a2","type":"quantitative"}}},
  {"data":{"name":"I2LN"},"transform":[{"filter":"datum.c === 'g'"}],"mark":{"type":"rule","color":"#9bdc28","strokeWidth":0.8},
   "encoding":{"x":{"field":"wn","type":"quantitative"},"x2":{"field":"wn2"},"y":{"field":"a","type":"quantitative"},"y2":{"field":"a2"}}},
  {"data":{"name":"I2LN"},"transform":[{"filter":"datum.c === 'b'"}],"mark":{"type":"rule","color":"#d9b89a","strokeWidth":0.8},
   "encoding":{"x":{"field":"wn","type":"quantitative"},"x2":{"field":"wn2"},"y":{"field":"a","type":"quantitative"},"y2":{"field":"a2"}}},
  {"data":{"name":"I2TXT"},"transform":[{"filter":"datum.c === 'k'"}],"mark":{"type":"text","fontSize":11.5,"fill":"black"},
   "encoding":{"x":{"field":"wn","type":"quantitative"},"y":{"field":"a","type":"quantitative"},"text":{"field":"t"}}},
  {"data":{"name":"I2TXT"},"transform":[{"filter":"datum.c === 'g'"}],"mark":{"type":"text","fontSize":11.5,"fill":"#86cc18"},
   "encoding":{"x":{"field":"wn","type":"quantitative"},"y":{"field":"a","type":"quantitative"},"text":{"field":"t"}}},
  {"data":{"name":"I2TXT"},"transform":[{"filter":"datum.c === 'b'"}],"mark":{"type":"text","fontSize":11.5,"fill":"#b06a2c"},
   "encoding":{"x":{"field":"wn","type":"quantitative"},"y":{"field":"a","type":"quantitative"},"text":{"field":"t"}}}
 ]}
]
},
{
"width":217,"height":341,
"resolve":{"scale":{"x":"independent","y":"independent"},"axis":{"x":"independent","y":"independent"}},
"layer":[
 {"layer":[
  {"data":{"name":"R"},"transform":[{"filter":"datum.s !== 'MgAl-LDH'"}],"mark":{"type":"line","strokeWidth":1.5},
   "encoding":{
    "x":{"field":"wn","type":"quantitative","scale":{"domain":[520,4000],"reverse":true,"nice":false,"zero":false},
      "axis":{"orient":"bottom","values":[1000,2000,3000,4000],"format":"d","tickSize":6,"labelPadding":5,"labelFlush":false,"labelFont":"Liberation Serif","title":null}},
    "y":{"field":"a","type":"quantitative","scale":{"domain":[0,0.25],"nice":false,"zero":false},
      "axis":{"orient":"right","values":[0,0.05,0.1,0.15,0.2,0.25],"format":".2f","tickSize":6,"labelPadding":3,"labelFont":"Liberation Serif","title":null}},
    "color":{"field":"s","type":"nominal","scale":{"domain":["MgAl-LDH","Al(OH)₃","Mg(OH)₂"],"range":["#000000","#c08c48","#9bdc28"]},
      "legend":{"orient":"none","legendX":94,"legendY":4,"title":null,"strokeColor":"black","fillColor":"white","padding":3,"labelFontSize":15,"labelFont":"Liberation Serif","symbolType":"M-2,0H2","symbolSize":342,"symbolOffset":9.5,"symbolStrokeWidth":2,"rowPadding":1,"labelOffset":5}}}},
  {"data":{"name":"R"},"transform":[{"filter":"datum.s === 'MgAl-LDH'"}],"mark":{"type":"line","strokeWidth":2.5},
   "encoding":{"x":{"field":"wn","type":"quantitative"},"y":{"field":"a","type":"quantitative"},"color":{"field":"s","type":"nominal"}}},
  {"data":{"name":"RARR"},"transform":[{"filter":"datum.c === 'n'"}],"mark":{"type":"rule","color":"#c4cccc","strokeWidth":1.5},
   "encoding":{"x":{"field":"wn","type":"quantitative"},"x2":{"field":"wn2"},"y":{"field":"a","type":"quantitative"},"y2":{"field":"a2"}}},
  {"data":{"name":"RARR"},"transform":[{"filter":"datum.c === 'k'"}],"mark":{"type":"rule","color":"black","strokeWidth":0.9},
   "encoding":{"x":{"field":"wn","type":"quantitative"},"x2":{"field":"wn2"},"y":{"field":"a","type":"quantitative"},"y2":{"field":"a2"}}},
  {"data":{"name":"RARR"},"transform":[{"filter":"datum.c === 'b'"}],"mark":{"type":"rule","color":"#c07a38","strokeWidth":0.9},
   "encoding":{"x":{"field":"wn","type":"quantitative"},"x2":{"field":"wn2"},"y":{"field":"a","type":"quantitative"},"y2":{"field":"a2"}}},
  {"data":{"name":"RARR"},"transform":[{"filter":"datum.c === 'g'"}],"mark":{"type":"rule","color":"#86cc18","strokeWidth":1},
   "encoding":{"x":{"field":"wn","type":"quantitative"},"x2":{"field":"wn2"},"y":{"field":"a","type":"quantitative"},"y2":{"field":"a2"}}},
  {"data":{"name":"RARR"},"transform":[{"filter":"datum.c === 'n'"}],"mark":{"type":"point","shape":"triangle-down","filled":true,"size":50,"color":"#c4cccc","opacity":1,"yOffset":-2},
   "encoding":{"x":{"field":"wn2","type":"quantitative"},"y":{"field":"a2","type":"quantitative"}}},
  {"data":{"name":"RARR"},"transform":[{"filter":"datum.k === 'g3696'"}],"mark":{"type":"point","shape":"triangle-down","filled":true,"size":40,"color":"#86cc18","opacity":1,"yOffset":-2},
   "encoding":{"x":{"field":"wn2","type":"quantitative"},"y":{"field":"a2","type":"quantitative"}}},
  {"data":{"name":"RARR"},"transform":[{"filter":"datum.k === 'b3438'"}],"mark":{"type":"point","shape":"triangle-down","filled":true,"size":40,"color":"#c07a38","opacity":1,"angle":32.5},
   "encoding":{"x":{"field":"wn2","type":"quantitative"},"y":{"field":"a2","type":"quantitative"}}},
  {"data":{"name":"RARR"},"transform":[{"filter":"datum.k === 'k3425'"}],"mark":{"type":"point","shape":"triangle-down","filled":true,"size":40,"color":"black","opacity":1,"angle":41},
   "encoding":{"x":{"field":"wn2","type":"quantitative"},"y":{"field":"a2","type":"quantitative"}}},
  {"data":{"name":"RARR"},"transform":[{"filter":"datum.k === 'k1359'"}],"mark":{"type":"point","shape":"triangle-down","filled":true,"size":40,"color":"black","opacity":1,"angle":-30},
   "encoding":{"x":{"field":"wn2","type":"quantitative"},"y":{"field":"a2","type":"quantitative"}}},
  {"data":{"name":"RARR"},"transform":[{"filter":"datum.k === 'b720'"}],"mark":{"type":"point","shape":"triangle-down","filled":true,"size":40,"color":"#c07a38","opacity":1,"angle":-12},
   "encoding":{"x":{"field":"wn2","type":"quantitative"},"y":{"field":"a2","type":"quantitative"}}},
  {"data":{"name":"RARR"},"transform":[{"filter":"datum.k === 'k676'"}],"mark":{"type":"point","shape":"triangle-down","filled":true,"size":40,"color":"black","opacity":1,"angle":-4},
   "encoding":{"x":{"field":"wn2","type":"quantitative"},"y":{"field":"a2","type":"quantitative"}}},
  {"data":{"name":"RNUM"},"mark":{"type":"text","fontSize":19,"fill":"#8d9b9b"},
   "encoding":{"x":{"field":"wn","type":"quantitative"},"y":{"field":"a","type":"quantitative"},"text":{"field":"t"}}},
  {"data":{"name":"RTXT"},"transform":[{"filter":"datum.c === 'k'"}],"mark":{"type":"text","fontSize":12,"fill":"black"},
   "encoding":{"x":{"field":"wn","type":"quantitative"},"y":{"field":"a","type":"quantitative"},"text":{"field":"t"}}},
  {"data":{"name":"RTXT"},"transform":[{"filter":"datum.c === 'b'"}],"mark":{"type":"text","fontSize":12,"fill":"#b8702e"},
   "encoding":{"x":{"field":"wn","type":"quantitative"},"y":{"field":"a","type":"quantitative"},"text":{"field":"t"}}},
  {"data":{"name":"RTXT"},"transform":[{"filter":"datum.c === 'g'"}],"mark":{"type":"text","fontSize":12,"fill":"#86cc18"},
   "encoding":{"x":{"field":"wn","type":"quantitative"},"y":{"field":"a","type":"quantitative"},"text":{"field":"t"}}}
 ]},
 {"data":{"values":[{"wn":2000,"a":0.1}]},"mark":{"type":"point","opacity":0},
  "encoding":{
   "x":{"field":"wn","type":"quantitative","scale":{"domain":[520,4000],"reverse":true,"nice":false,"zero":false},"axis":{"orient":"bottom","values":[1500,2500,3500],"labels":false,"tickSize":3,"domain":false,"title":null}},
   "y":{"field":"a","type":"quantitative","scale":{"domain":[0,0.25],"nice":false,"zero":false},"axis":{"orient":"right","values":[0.025,0.075,0.125,0.175,0.225],"labels":false,"tickSize":3,"domain":false,"title":null}}}},
 {"data":{"values":[{"ev":0.2}]},"mark":{"type":"point","opacity":0},
  "encoding":{
   "x":{"field":"ev","type":"quantitative","scale":{"domain":[0.064472,0.495937],"reverse":true,"nice":false,"zero":false},
     "axis":{"orient":"bottom","values":[0.1,0.2,0.3,0.4],"format":".1f","tickSize":-6,"tickColor":"#e8191d","labelColor":"#e8191d","labelFontSize":10,"labelPadding":8,"labelFlush":false,"labelFont":"Liberation Serif","domain":false,"title":null}}}},
 {"data":{"values":[{"ev":0.2}]},"mark":{"type":"point","opacity":0},
  "encoding":{
   "x":{"field":"ev","type":"quantitative","scale":{"domain":[0.064472,0.495937],"reverse":true,"nice":false,"zero":false},
     "axis":{"orient":"bottom","values":[0.15,0.25,0.35,0.45],"labels":false,"tickSize":-3,"tickColor":"#e8191d","domain":false,"title":null}}}}
]
}
]
}
